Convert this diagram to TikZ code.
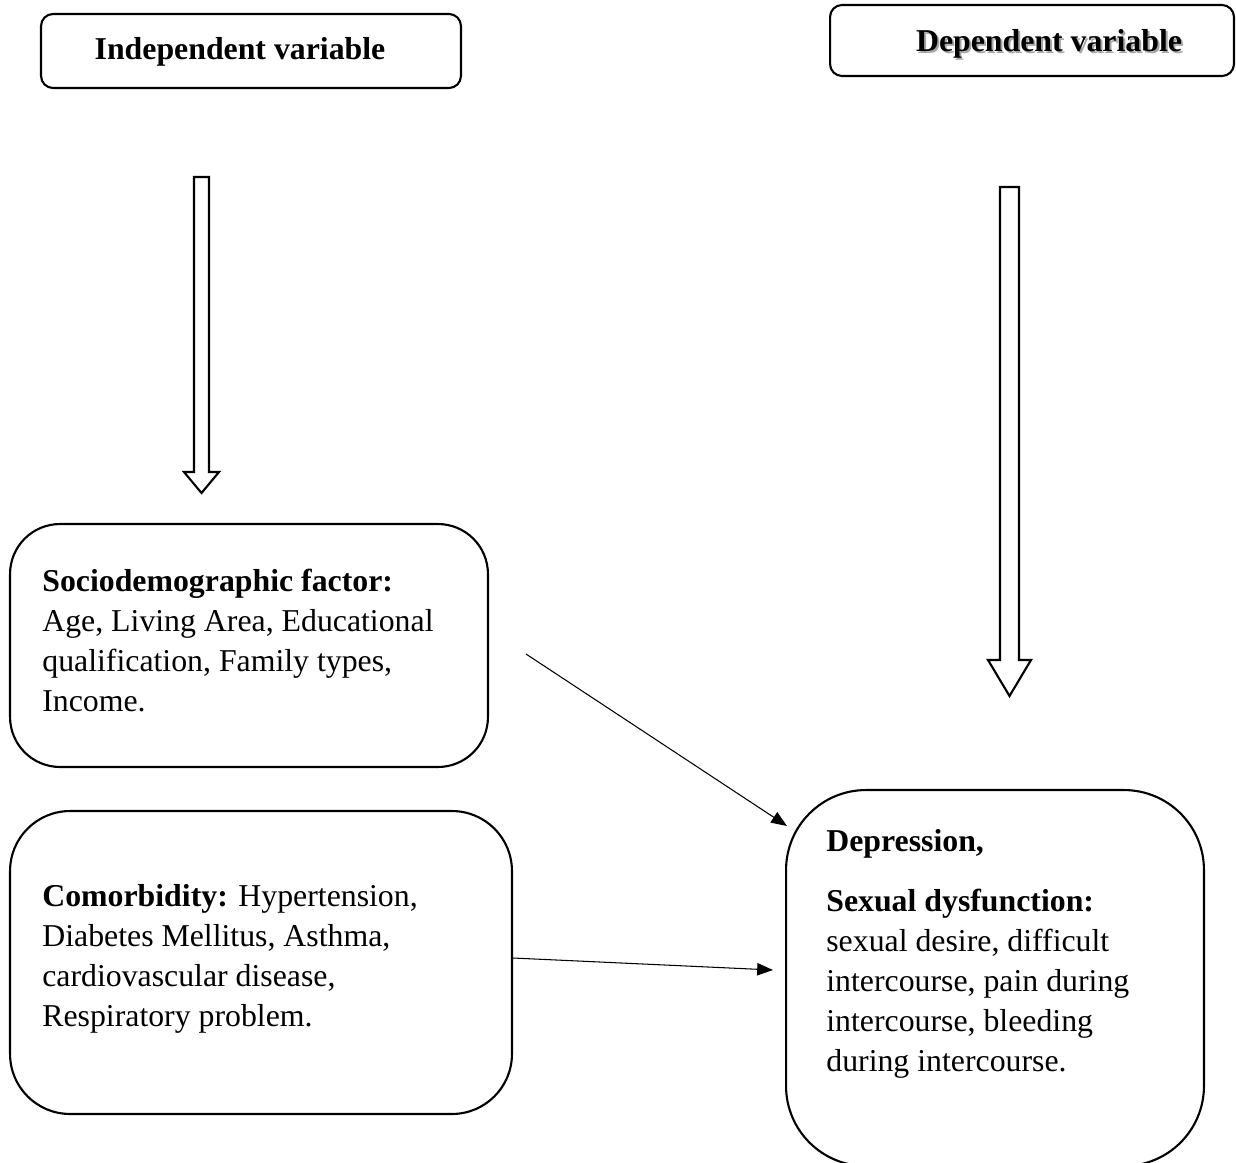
\documentclass[tikz,border=0pt]{standalone}
\usepackage{fontspec}
\setmainfont{Liberation Serif}
\usetikzlibrary{arrows.meta,calc}
\begin{document}
\begin{tikzpicture}[x=0.02cm,y=-0.02cm,
  every node/.style={font=\fontsize{18.1pt}{22.76pt}\selectfont},
  box/.style={draw=black,line width=1.2pt,inner sep=0pt},
  txt/.style={inner sep=0pt,align=left,anchor=north west},
  hdr/.style={inner sep=0pt,anchor=base,font=\fontsize{18.1pt}{22.76pt}\selectfont\bfseries},
  blk/.style={draw=black,line width=1.2pt,fill=white,line join=miter},
  conn/.style={draw=black,line width=0.6pt,-{Triangle[length=9pt,width=7pt]}}]
\useasboundingbox (0,0) rectangle (1236,1162);
% header boxes
\node[box,rounded corners=0.24cm,minimum width=8.4cm,minimum height=1.48cm] (iv) at (251,51) {};
\node[box,rounded corners=0.24cm,minimum width=8.08cm,minimum height=1.42cm] (dv) at (1032,40.5) {};
\node[hdr] (ivt) at (240,60) {Independent variable};
\node[hdr,text=black!35] (dvs) at (1051,54) {Dependent variable};
\node[hdr] (dvt) at (1049,52) {Dependent variable};
% block arrows
\draw[blk] (194,177) -- (209,177) -- (209,472) -- (219,472) -- (201.5,493) -- (184,472) -- (194,472) -- cycle;
\draw[blk] (1000,187) -- (1019,187) -- (1019,660) -- (1031,660) -- (1009.5,696) -- (988,660) -- (1000,660) -- cycle;
% factor boxes
\node[box,rounded corners=1cm,minimum width=9.56cm,minimum height=4.86cm] (soc) at (249,645.5) {};
\node[box,rounded corners=1.2cm,minimum width=10.04cm,minimum height=6.06cm] (com) at (261,962.5) {};
\node[box,rounded corners=1.6cm,minimum width=8.36cm,minimum height=7.52cm] (dep) at (995,978) {};
% texts
\node[txt] (soct) at (42,569) {\textbf{Sociodemographic factor:}\\Age, Living Area, Educational\\qualification, Family types,\\Income.};
\node[txt] (comt) at (42,884) {\textbf{Comorbidity:} Hypertension,\\Diabetes Mellitus, Asthma,\\cardiovascular disease,\\Respiratory problem.};
\node[txt] (dept) at (826,829) {\textbf{Depression,}\\[11.4pt]\textbf{Sexual dysfunction:}\\sexual desire, difficult\\intercourse, pain during\\intercourse, bleeding\\during intercourse.};
% connectors
\coordinate (s1) at (526,654);
\coordinate (e1) at (787,826);
\coordinate (e2) at (773,970);
\draw[conn] (s1) -- (e1);
\draw[conn] ([yshift=0.09cm]com.east) -- (e2);
\end{tikzpicture}
\end{document}
